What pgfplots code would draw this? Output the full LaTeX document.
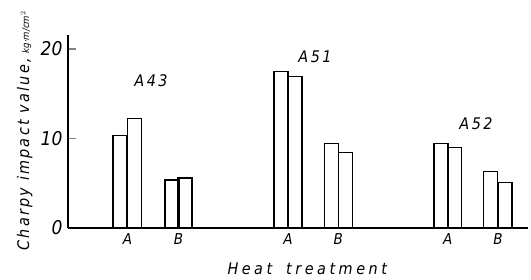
\documentclass[border=0pt]{standalone}
\usepackage{pgfplots}
\pgfplotsset{compat=1.18}
\usepackage{fontspec}
\setmainfont{DejaVu Sans Condensed}
\newfontfamily\labfont[LetterSpace=14]{DejaVu Sans Condensed}
\newfontfamily\ylabfont[LetterSpace=14]{DejaVu Sans Condensed}
\newfontfamily\xlabfont[LetterSpace=22]{DejaVu Sans Condensed}
\begin{document}
\begin{tikzpicture}[font=\itshape]
\useasboundingbox (-68pt,-52pt) rectangle (463pt,228pt);
\begin{axis}[
  at={(0pt,0pt)}, anchor=south west,
  scale only axis, width=460pt, height=193pt,
  xmin=68, xmax=528, ymin=0, ymax=21.56,
  axis x line=bottom, axis y line=left,
  axis line style={-, line width=1.6pt},
  xtick={127.5,178.5,288,338.3,447.8,498},
  xticklabels={A,B,A,B,A,B},
  x tick style={draw=none},
  xticklabel style={font=\itshape\fontsize{15}{18}\selectfont, yshift=-2pt},
  ytick={0,10,20},
  tick align=inside, major tick length=8pt,
  y tick style={line width=1.3pt},
  /pgf/number format/assume math mode=true,
  yticklabel style={font=\itshape\fontsize{19}{22}\selectfont, xshift=-2pt},
  xlabel={Heat\hspace{14pt}treatment},
  xlabel style={at={(rel axis cs:0.52,0)}, anchor=north, yshift=-31pt, font=\xlabfont\itshape\fontsize{16}{18}\selectfont},
  ylabel={Charpy impact value,\hspace{5pt}{\normalfont\itshape\fontsize{9.5}{10}\selectfont kg·m/cm$^2$}},
  ylabel style={at={(rel axis cs:0,0)}, anchor=south west, xshift=-26pt, yshift=32pt, font=\ylabfont\itshape\fontsize{16}{18}\selectfont},
  clip=false,
]
\addplot[ybar, bar width=14pt, bar shift=0pt, draw=black, fill=white, line width=1.3pt]
  coordinates {
    (120,10.3) (134.7,12.25) (172,5.36) (185,5.6)
    (281,17.46) (295,16.9) (331.3,9.46) (345.3,8.46)
    (441,9.46) (454.5,8.97) (490.7,6.29) (505,5.06)
  };
\node[font=\labfont\itshape\fontsize{16}{18}\selectfont] at (axis cs:151,16.5) {A\,43};
\node[font=\labfont\itshape\fontsize{16}{18}\selectfont] at (axis cs:315,19.1) {A\,51};
\node[font=\labfont\itshape\fontsize{16}{18}\selectfont] at (axis cs:476,11.7) {A\,52};
\end{axis}
\end{tikzpicture}
\end{document}
